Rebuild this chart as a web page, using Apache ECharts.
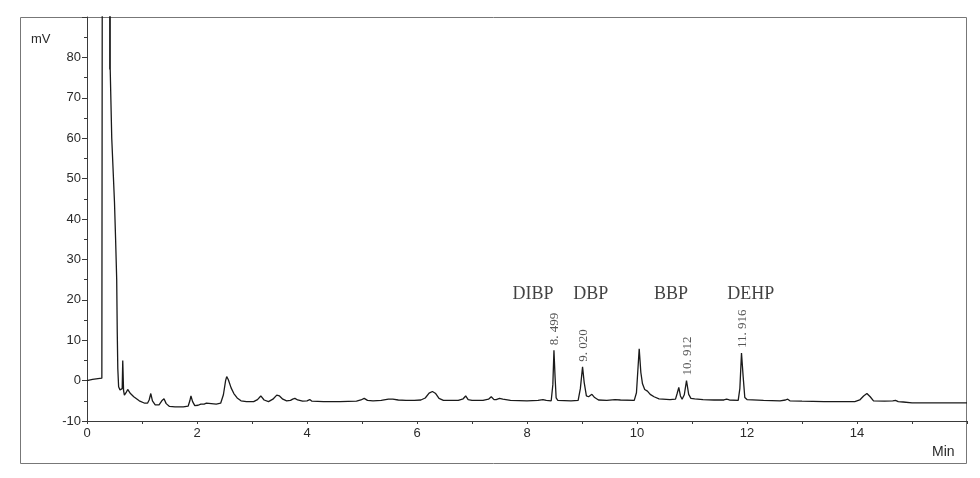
<!DOCTYPE html>
<html>
<head>
<meta charset="utf-8">
<script src="https://cdn.jsdelivr.net/npm/echarts@6/dist/echarts.min.js"></script>
<style>html,body{margin:0;padding:0;background:#fff}#c{width:980px;height:478px}</style>
</head>
<body>
<div id="c"></div>
<script>
// retention time (min)
const times = [0,0.1,0.2,0.27,0.28,0.285,0.41,0.412,0.414,0.416,0.418,0.42,0.422,0.45,0.50,0.52,0.54,0.55,0.56,0.575,0.60,0.62,0.64,0.65,0.665,0.68,0.71,0.74,0.76,0.79,0.85,0.95,1.05,1.10,1.13,1.16,1.19,1.24,1.31,1.36,1.40,1.44,1.50,1.60,1.75,1.84,1.87,1.89,1.92,1.96,2.02,2.07,2.10,2.13,2.17,2.20,2.35,2.43,2.48,2.52,2.54,2.57,2.62,2.67,2.73,2.80,2.9,3.03,3.10,3.16,3.22,3.30,3.38,3.45,3.50,3.56,3.63,3.70,3.74,3.78,3.83,3.92,4.00,4.05,4.09,4.3,4.6,4.9,4.98,5.04,5.10,5.2,5.35,5.48,5.56,5.66,5.8,5.95,6.07,6.15,6.22,6.28,6.34,6.40,6.48,6.6,6.75,6.84,6.885,6.93,7.00,7.2,7.3,7.35,7.40,7.44,7.5,7.56,7.7,8.0,8.2,8.29,8.35,8.44,8.47,8.49,8.51,8.53,8.56,8.8,8.93,8.97,9.01,9.04,9.08,9.12,9.18,9.23,9.3,9.45,9.6,9.7,9.95,9.99,10.04,10.07,10.10,10.14,10.19,10.24,10.31,10.4,10.6,10.70,10.73,10.76,10.79,10.82,10.86,10.90,10.94,10.98,11.05,11.2,11.4,11.58,11.63,11.68,11.84,11.87,11.90,11.93,11.96,12.0,12.3,12.6,12.70,12.74,12.78,13.0,13.4,13.96,14.05,14.12,14.18,14.24,14.30,14.5,14.65,14.70,14.75,14.84,15.0,15.5,16.0];
// detector signal (mV)
const signal = [0.0,0.3,0.5,0.6,0.7,200,200,200,77,200,77.5,200,77,60,44,35,25,12,3,-1.5,-2.3,-2.5,-2.0,5.0,-2.5,-3.6,-3.0,-2.2,-2.0,-3.2,-4.0,-5.0,-5.6,-5.6,-4.8,-3.2,-5.0,-6.0,-6.0,-5.0,-4.5,-5.7,-6.4,-6.5,-6.5,-6.3,-5.0,-3.8,-5.2,-6.2,-6.1,-5.8,-5.6,-5.8,-5.6,-5.8,-5.8,-5.6,-3.5,0.0,1.0,0.2,-1.8,-3.2,-4.3,-5.0,-5.2,-5.2,-4.7,-3.8,-4.8,-5.2,-4.6,-3.6,-3.8,-4.6,-5.0,-4.9,-4.6,-4.4,-4.8,-5.1,-5.0,-4.7,-5.1,-5.2,-5.2,-5.1,-4.8,-4.4,-4.9,-5.0,-4.9,-4.6,-4.6,-4.8,-4.9,-4.9,-4.8,-4.3,-3.1,-2.7,-3.2,-4.4,-4.9,-4.9,-4.9,-4.5,-3.8,-4.7,-4.9,-4.9,-4.6,-4.0,-4.7,-4.7,-4.4,-4.6,-4.9,-5.0,-4.9,-4.7,-4.9,-5.0,-1.0,7.5,1.0,-4.3,-4.9,-5.0,-4.9,-2.0,3.4,-0.5,-3.8,-4.0,-3.4,-4.2,-4.8,-4.9,-4.7,-4.8,-4.9,-3.0,7.9,2.0,-0.8,-2.2,-2.6,-3.4,-4.0,-4.5,-4.7,-4.6,-3.2,-1.7,-3.8,-4.6,-3.5,0.0,-3.4,-4.4,-4.5,-4.7,-4.8,-4.8,-4.6,-4.8,-4.9,-2.0,6.8,1.0,-4.2,-4.7,-4.9,-5.0,-4.8,-4.6,-5.0,-5.1,-5.2,-5.2,-4.8,-3.8,-3.2,-4.0,-5.0,-5.1,-5.0,-4.9,-5.2,-5.3,-5.5,-5.5,-5.5];

// labelled peaks
const peakTimes = [8.499, 9.020, 10.912, 11.916];
const peakHeights = [7.5, 3.4, 0.0, 6.8];
const peakLabels = ['8. 499', '9. 020', '10. 912', '11. 916'];

// compound names (placed in data coordinates)
const compoundNames = ['DIBP', 'DBP', 'BBP', 'DEHP'];
const compoundX = [8.11, 9.16, 10.62, 12.07];
const compoundY = [21.4, 21.4, 21.4, 21.4];

const chart = echarts.init(document.getElementById('c'));
const axisColor = '#3a3a3a';
const txtColor = '#2a2a2a';
chart.setOption({
  animation: false,
  backgroundColor: '#fff',
  grid: {left: 87, right: 13, top: 17, bottom: 57, containLabel: false},
  xAxis: {
    type: 'value', min: 0, max: 16, interval: 2,
    axisLine: {show: true, onZero: false, lineStyle: {color: axisColor, width: 1}},
    axisTick: {show: true, length: 3, lineStyle: {color: axisColor}},
    minorTick: {show: true, splitNumber: 2, length: 3, lineStyle: {color: axisColor}},
    axisLabel: {color: txtColor, fontFamily: 'Liberation Sans', fontSize: 13, margin: 6, showMaxLabel: false},
    splitLine: {show: false}
  },
  yAxis: {
    type: 'value', min: -10, max: 90, interval: 10,
    axisLine: {show: true, lineStyle: {color: axisColor, width: 1}},
    axisTick: {show: true, length: 5, lineStyle: {color: axisColor}},
    minorTick: {show: true, splitNumber: 2, length: 3, lineStyle: {color: axisColor}},
    axisLabel: {color: txtColor, fontFamily: 'Liberation Sans', fontSize: 13, margin: 6, showMaxLabel: false},
    splitLine: {show: false}
  },
  graphic: [
    {type: 'rect', z: -1, shape: {x: 20.5, y: 17.5, width: 946, height: 446}, style: {fill: 'none', stroke: '#777', lineWidth: 1}},
    {type: 'text', left: 31, top: 33, style: {text: 'mV', font: '13px "Liberation Sans"', fill: txtColor}},
    {type: 'text', left: 932, top: 445, style: {text: 'Min', font: '14px "Liberation Sans"', fill: txtColor}}
  ],
  series: [
    {
      type: 'line', showSymbol: false, symbol: 'none', clip: true,
      data: times.map((t, i) => [t, signal[i]]),
      lineStyle: {color: '#1a1a1a', width: 1.3},
      z: 3
    },
    {
      type: 'scatter', symbolSize: 0.1, itemStyle: {color: 'rgba(0,0,0,0)'},
      data: peakTimes.map((t, i) => ({value: [t, peakHeights[i]], name: peakLabels[i]})),
      label: {
        show: true, position: 'top', distance: 5, rotate: 90,
        align: 'left', verticalAlign: 'middle',
        formatter: p => p.name,
        fontFamily: 'Liberation Serif', fontSize: 13, color: '#2a2a2a'
      },
      z: 4
    },
    {
      type: 'scatter', symbolSize: 0.1, itemStyle: {color: 'rgba(0,0,0,0)'},
      data: compoundNames.map((n, i) => ({value: [compoundX[i], compoundY[i]], name: n})),
      label: {
        show: true, position: 'inside', formatter: p => p.name,
        fontFamily: 'Liberation Serif', fontSize: 18, color: '#111'
      },
      z: 4
    }
  ]
});
</script>
</body>
</html>
